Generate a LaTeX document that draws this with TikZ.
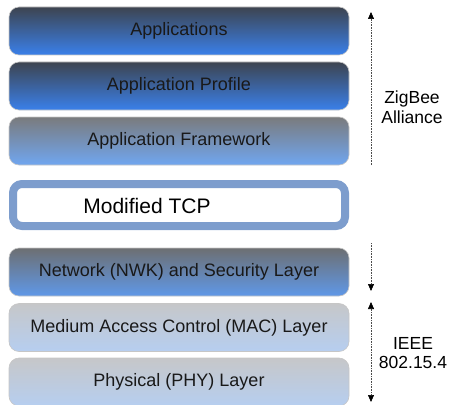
\documentclass[tikz,border=0pt]{standalone}
\usepackage{fontspec}
\setmainfont{Liberation Sans}
\usetikzlibrary{arrows.meta}

\definecolor{slatetop}{HTML}{3D4450}
\definecolor{bluebot}{HTML}{3A80EA}
\definecolor{greytop}{HTML}{7A7B7D}
\definecolor{skybot}{HTML}{70A6F0}
\definecolor{nwktop}{HTML}{6D6F72}
\definecolor{nwkbot}{HTML}{5F98E8}
\definecolor{palletop}{HTML}{C6C7C9}
\definecolor{pallebot}{HTML}{B6CEF0}
\definecolor{tcpblue}{HTML}{7D9DCD}

\begin{document}
\begin{tikzpicture}[x=1pt, y=1pt,
  layer/.style={rounded corners=10pt, minimum width=340pt, minimum height=48pt,
    draw=gray!45, line width=0.6pt, text=black!90},
  darklayer/.style={layer, top color=slatetop, bottom color=bluebot},
  framelayer/.style={layer, top color=greytop, bottom color=skybot},
  nwklayer/.style={layer, top color=nwktop, bottom color=nwkbot},
  palelayer/.style={layer, top color=palletop, bottom color=pallebot},
  span/.style={densely dotted, gray!60!black, line width=0.6pt},
  every node/.style={font=\fontsize{18}{20}\selectfont}
]
\useasboundingbox (0,0) rectangle (452,-404);

% ZigBee layers
\node[darklayer] (apps) at (179,-31) {Applications};
\node[darklayer] (profile) at (179,-86) {Application Profile};
\node[framelayer] (frame) at (179,-141) {Application Framework};

% Modified TCP
\node[draw=tcpblue, line width=8pt, rounded corners=9pt, fill=white,
  minimum width=332pt, minimum height=42pt] (tcp) at (179,-205) {};
\node[font=\fontsize{21}{24}\selectfont] (tcptext) at (147,-206) {Modified TCP};

% IEEE layers
\node[nwklayer] (nwk) at (179,-272) {Network (NWK) and Security Layer};
\node[palelayer] (mac) at (179,-327.5) {Medium Access Control (MAC) Layer};
\node[palelayer] (phy) at (179,-382) {Physical (PHY) Layer};

% Side labels
\node[align=center, font=\fontsize{17.5}{19.5}\selectfont] (zigbee) at (412,-107) {ZigBee\\Alliance};
\node[align=center, font=\fontsize{17.5}{19.5}\selectfont] (ieee) at (413,-353) {IEEE\\802.15.4};

% Span arrows
\coordinate (zbot) at (371,-165);
\coordinate (ztop) at (371,-12);
\coordinate (ntop) at (371,-243);
\coordinate (nbot) at (371,-291);
\coordinate (itop) at (371,-302);
\coordinate (ibot) at (371,-402);

\draw[span, -{Triangle[length=7pt, width=6pt, color=black]}] (zbot) -- (ztop);
\draw[span, -{Triangle[length=7pt, width=6pt, color=black]}] (ntop) -- (nbot);
\draw[span, {Triangle[length=7pt, width=6pt, color=black]}-{Triangle[length=7pt, width=6pt, color=black]}] (itop) -- (ibot);

\end{tikzpicture}
\end{document}
